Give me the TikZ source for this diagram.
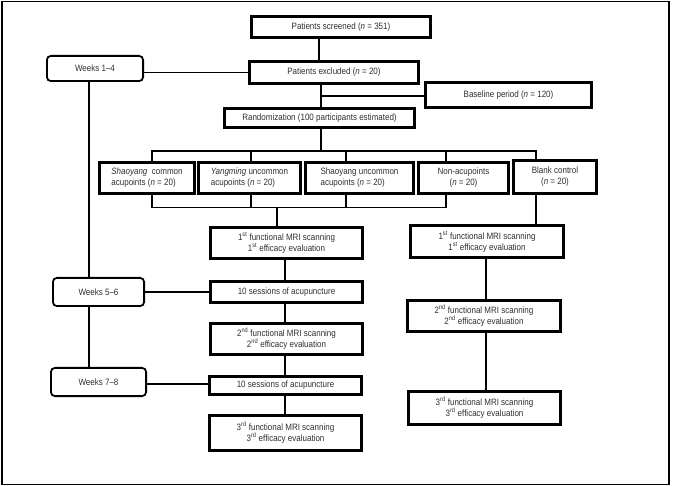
\documentclass[tikz,border=0pt]{standalone}
\usepackage{fontspec}
\setmainfont[FakeStretch=0.87]{Liberation Sans}
\begin{document}
\begin{tikzpicture}[x=1pt,y=-1pt,
  txt/.style={font=\fontsize{9.2}{11}\selectfont, text=black!82},
  box/.style={txt, draw, line width=2.6pt, inner sep=0pt, align=center},
  wk/.style={txt, draw, line width=1.8pt, rounded corners=4pt, inner sep=0pt, align=center},
  conn/.style={line width=1.5pt}]
\useasboundingbox (0,0) rectangle (675,486);
\draw[line width=1.2pt] (2,1.5) rectangle (669,484.5);

% top chain
\node[box, minimum width=179.4pt, minimum height=21.4pt] (scr) at (341,27) {Patients screened (\textit{n} = 351)};
\node[box, minimum width=169.4pt, minimum height=22.4pt] (exc) at (334,72.5) {Patients excluded (\textit{n} = 20)};
\node[box, minimum width=166.4pt, minimum height=25.4pt] (base) at (508.5,95) {Baseline period (\textit{n} = 120)};
\node[box, minimum width=190.4pt, minimum height=19.4pt] (rand) at (319.5,118) {Randomization (100 participants estimated)};

% weeks
\node[wk, minimum width=96.2pt, minimum height=25.2pt] (w14) at (95,68.5) {Weeks 1–4};
\node[wk, minimum width=91.2pt, minimum height=28.2pt] (w56) at (98.5,292) {Weeks 5–6};
\node[wk, minimum width=95.2pt, minimum height=28.2pt] (w78) at (98.5,382) {Weeks 7–8};

% groups
\node[box, align=left, minimum width=95.4pt, minimum height=31.4pt] (g1) at (147,178) {\textit{Shaoyang}\ \ common\\acupoints (\textit{n} = 20)};
\node[box, align=left, minimum width=102.4pt, minimum height=31.4pt] (g2) at (249.5,178) {\textit{Yangming} uncommon\\acupoints (\textit{n} = 20)};
\node[box, align=left, minimum width=108.4pt, minimum height=31.4pt] (g3) at (359.5,178) {Shaoyang uncommon\\acupoints (\textit{n} = 20)};
\node[box, minimum width=90.4pt, minimum height=31.4pt] (g4) at (463.5,178) {Non-acupoints\\(\textit{n} = 20)};
\node[box, minimum width=83.4pt, minimum height=33.4pt] (g5) at (555,177) {Blank control\\(\textit{n} = 20)};

% left column
\node[box, minimum width=152.4pt, minimum height=31.4pt] (f1L) at (286.5,243) {1\textsuperscript{st} functional MRI scanning\\1\textsuperscript{st} efficacy evaluation};
\node[box, minimum width=152.4pt, minimum height=21.4pt] (s1) at (286.5,292) {10 sessions of acupuncture};
\node[box, minimum width=152.4pt, minimum height=31.4pt] (f2L) at (286.5,339) {2\textsuperscript{nd} functional MRI scanning\\2\textsuperscript{nd} efficacy evaluation};
\node[box, minimum width=152.4pt, minimum height=18.4pt] (s2) at (285.5,385.5) {10 sessions of acupuncture};
\node[box, minimum width=152.4pt, minimum height=35.4pt] (f3L) at (285.5,433) {3\textsuperscript{rd} functional MRI scanning\\3\textsuperscript{rd} efficacy evaluation};

% right column
\node[box, minimum width=153.4pt, minimum height=32.4pt] (f1R) at (487,241.5) {1\textsuperscript{st} functional MRI scanning\\1\textsuperscript{st} efficacy evaluation};
\node[box, minimum width=153.4pt, minimum height=31.4pt] (f2R) at (484,316) {2\textsuperscript{nd} functional MRI scanning\\2\textsuperscript{nd} efficacy evaluation};
\node[box, minimum width=152.4pt, minimum height=33.4pt] (f3R) at (484.5,408) {3\textsuperscript{rd} functional MRI scanning\\3\textsuperscript{rd} efficacy evaluation};

% coordinates
\coordinate (a1) at (319,0);
\coordinate (a2) at (321,96);
\coordinate (tb) at (0,151);
\coordinate (bb) at (0,207.5);
\coordinate (x1) at (152,0);
\coordinate (x2) at (251,0);
\coordinate (x3) at (346,0);
\coordinate (x4) at (446,0);
\coordinate (x5) at (536,0);
\coordinate (xd) at (277,0);
\coordinate (xl) at (285,0);
\coordinate (xr) at (486,0);
\coordinate (xw) at (89,0);

% connectors
\draw[conn] (scr.south -| a1) -- (exc.north -| a1);
\draw[conn] (exc.south -| a2) -- (rand.north -| a2);
\draw[conn] (a2) -- (base.west |- a2);
\draw[conn] (w14.east |- exc.west) -- (exc.west);
\draw[conn] (rand.south -| a2) -- (a2 |- tb);
\draw[conn] (x1 |- g1.north) -- (x1 |- tb) -- (x5 |- tb) -- (x5 |- g5.north);
\draw[conn] (x2 |- tb) -- (x2 |- g2.north);
\draw[conn] (x3 |- tb) -- (x3 |- g3.north);
\draw[conn] (x4 |- tb) -- (x4 |- g4.north);
\draw[conn] (x1 |- g1.south) -- (x1 |- bb) -- (x4 |- bb) -- (x4 |- g4.south);
\draw[conn] (x2 |- g2.south) -- (x2 |- bb);
\draw[conn] (x3 |- g3.south) -- (x3 |- bb);
\draw[conn] (xd |- bb) -- (xd |- f1L.north);
\draw[conn] (x5 |- g5.south) -- (x5 |- f1R.north);
\draw[conn] (xl |- f1L.south) -- (xl |- s1.north);
\draw[conn] (xl |- s1.south) -- (xl |- f2L.north);
\draw[conn] (xl |- f2L.south) -- (xl |- s2.north);
\draw[conn] (xl |- s2.south) -- (xl |- f3L.north);
\draw[conn] (xr |- f1R.south) -- (xr |- f2R.north);
\draw[conn] (xr |- f2R.south) -- (xr |- f3R.north);
\draw[conn] (xw |- w14.south) -- (xw |- w56.north);
\draw[conn] (xw |- w56.south) -- (xw |- w78.north);
\draw[conn] (w56.east) -- (s1.west);
\draw[conn] (w78.east |- 0,384) -- (s2.west |- 0,384);
\end{tikzpicture}
\end{document}
